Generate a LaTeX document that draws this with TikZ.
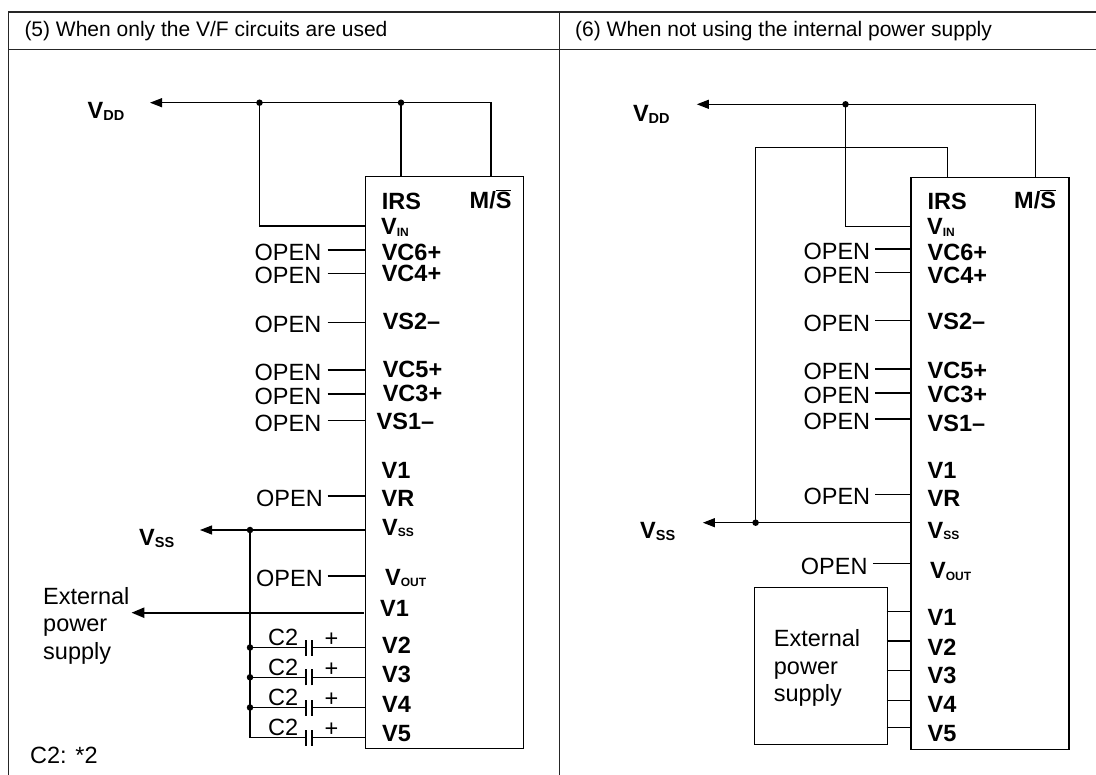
\documentclass[tikz,border=0pt]{standalone}
\usepackage{fontspec}
\setmainfont{Liberation Sans}
\usetikzlibrary{arrows.meta}
\newcommand{\insub}[1]{\raisebox{-1.5pt}{\fontsize{12}{12}\selectfont #1}}
\newcommand{\outsub}[1]{\raisebox{-2pt}{\fontsize{14.5}{15}\selectfont #1}}
\newcommand{\msbar}{M/$\overline{\hbox{S}}$}
\begin{document}
\begin{tikzpicture}[x=1pt,y=-1pt,
  wire/.style={line width=1.1pt},
  thickwire/.style={line width=2.4pt},
  framel/.style={line width=1.3pt, black!85},
  arr/.style={-{Triangle[length=12pt,width=9pt]}},
  jdot/.style={circle, fill, inner sep=0pt, minimum size=6.5pt},
  pinlbl/.style={anchor=base west, inner sep=0pt, font=\bfseries\fontsize{23.5}{26}\selectfont},
  openlbl/.style={anchor=base east, inner sep=0pt, font=\fontsize{23.5}{26}\selectfont},
  plainlbl/.style={anchor=base west, inner sep=0pt, font=\fontsize{23.5}{26}\selectfont},
  titlelbl/.style={anchor=base west, inner sep=0pt, font=\fontsize{21}{25}\selectfont},
  extlbl/.style={anchor=north west, inner sep=0pt, align=left, font=\fontsize{23.5}{27.5}\selectfont},
  chipbox/.style={draw, line width=1.1pt, inner sep=0pt, anchor=north west},
]
\useasboundingbox (0,0) rectangle (1096,775);

% ---------------- frame ----------------
\coordinate (FtL) at (8.3,12);
\coordinate (FtR) at (1096,12);
\coordinate (FhL) at (8.3,49.5);
\coordinate (FhR) at (1096,49.5);
\coordinate (FbL) at (8.3,775);
\coordinate (FtM) at (559.3,12);
\coordinate (FbM) at (559.3,775);
\draw[framel, line width=1.8pt] (FtL) -- (FtR);
\draw[framel] (FhL) -- (FhR);
\draw[framel] (FtL) -- (FbL);
\draw[framel] (FtM) -- (FbM);
\node[titlelbl] (T5) at (24.3,36.5) {(5) When only the V/F circuits are used};
\node[titlelbl] (T6) at (575,36.5) {(6) When not using the internal power supply};

% ================= LEFT PANEL =================
\node[chipbox, minimum width=157.9pt, minimum height=571.5pt] (Lchip) at (364.7,176) {};
% VDD
\coordinate (Lvddtip) at (150,102.7);
\coordinate (Lms) at (491,176);
\coordinate (Lirs) at (401,176);
\coordinate (Lvin) at (364.7,226);
\node[jdot] (Ld1) at (259.5,102.7) {};
\node[jdot] (Ld2) at (401,102.7) {};
\draw[wire, arr] (Lms) |- (Lvddtip);
\draw[wire] (Ld2.center) -- (Lirs);
\draw[wire] (Ld1.center) |- (Lvin);
\node[pinlbl] (LVDD) at (87.5,119) {V\outsub{DD}};

% OPEN rows
\foreach \n/\y/\tx in {1/250/321.5, 2/273.3/321.5, 3/322.3/321.5, 4/370/321.5, 5/394/321.5, 6/420.7/321.5, 7/496/323, 8/576/323} {
  \coordinate (LoA\n) at (327.5,\y);
  \coordinate (LoB\n) at (364.7,\y);
  \node[openlbl] (LoT\n) at (\tx,\y+10.5) {OPEN};
  \draw[wire] (LoA\n) -- (LoB\n);
}

% VSS
\coordinate (Lvss) at (364.7,530);
\coordinate (Lvsstip) at (200,530);
\node[jdot] (Ldv) at (250,530) {};
\draw[wire, arr] (Lvss) -- (Lvsstip);
\node[pinlbl] (LVSS) at (139,545.5) {V\outsub{SS}};

% external V1
\coordinate (Lv1) at (363.5,612.7);
\coordinate (Lexttip) at (131.4,612.7);
\draw[thickwire, -{Triangle[length=13pt,width=10pt]}] (Lv1) -- (Lexttip);
\node[extlbl] (Lext) at (43,586.8) {External\\power\\supply};

% capacitors
\foreach \n/\y in {1/647.5, 2/677.3, 3/707.5, 4/737.5} {
  \coordinate (CbA\n) at (250,\y);
  \coordinate (CpL\n) at (306,\y);
  \coordinate (CpR\n) at (312,\y);
  \coordinate (CcB\n) at (364.7,\y);
  \draw[wire] (CbA\n) -- (CpL\n);
  \draw[wire] (CpR\n) -- (CcB\n);
  \draw[wire] ([yshift=-8pt]CpL\n) -- ([yshift=8pt]CpL\n);
  \draw[wire] ([yshift=-8pt]CpR\n) -- ([yshift=8pt]CpR\n);
  \node[plainlbl] (Clab\n) at (268,\y-2) {C2};
  \node[plainlbl] (Cplus\n) at (324.3,\y-1) {+};
}
\foreach \n in {1,2,3} { \node[jdot] (Cdot\n) at (CbA\n) {}; }
\draw[wire] (Ldv.center) -- (CbA4);
\node[plainlbl] (Lnote) at (30,763.4) {C2: *2};

% chip labels left
\node[pinlbl] (LlIRS) at (381.6,210) {IRS};
\node[pinlbl] (LlMS) at (469.5,208.5) {\msbar};
\node[pinlbl] (LlVIN) at (381,235) {V\insub{IN}};
\node[pinlbl] (LlVC6) at (381.6,260.5) {VC6+};
\node[pinlbl] (LlVC4) at (381.6,282) {VC4+};
\node[pinlbl] (LlVS2) at (382.6,330) {VS2–};
\node[pinlbl] (LlVC5) at (382.6,377.5) {VC5+};
\node[pinlbl] (LlVC3) at (382.6,401.7) {VC3+};
\node[pinlbl] (LlVS1) at (376.5,430) {VS1–};
\node[pinlbl] (LlV1a) at (381.4,478.4) {V1};
\node[pinlbl] (LlVR) at (381.4,506.4) {VR};
\node[pinlbl] (LlVSS) at (382,535.5) {V\insub{SS}};
\node[pinlbl] (LlVOUT) at (385,585) {V\insub{OUT}};
\node[pinlbl] (LlV1b) at (380,616.7) {V1};
\node[pinlbl] (LlV2) at (382,653.4) {V2};
\node[pinlbl] (LlV3) at (382,682.4) {V3};
\node[pinlbl] (LlV4) at (382,712.7) {V4};
\node[pinlbl] (LlV5) at (382,741) {V5};

% ================= RIGHT PANEL =================
\node[chipbox, minimum width=158pt, minimum height=572.6pt] (Rchip) at (910.4,176.7) {};
\coordinate (Rvddtip) at (696.8,104.3);
\coordinate (Rms) at (1035.9,176.7);
\coordinate (Rirs) at (947.4,176.7);
\coordinate (Rvin) at (910.4,226.7);
\coordinate (Rloop) at (755.6,147.7);
\node[jdot] (Rd1) at (845.5,104.3) {};
\draw[wire, arr] (Rms) |- (Rvddtip);
\draw[wire] (Rd1.center) |- (Rvin);
\node[pinlbl] (RVDD) at (632.8,121.7) {V\outsub{DD}};

\coordinate (Rvss) at (910.4,522.7);
\coordinate (Rvsstip) at (702.9,522.7);
\node[jdot] (Rdv) at (755.6,522.7) {};
\draw[wire, arr] (Rvss) -- (Rvsstip);
\draw[wire] (Rirs) |- (Rloop) -- (Rdv.center);
\node[pinlbl] (RVSS) at (640,538.5) {V\outsub{SS}};

\foreach \n/\y/\tx/\sx in {1/249/870.4/875, 2/272.7/870.4/875, 3/320.7/870.4/875, 4/369/870.4/875, 5/393/870.4/875, 6/419/870.4/875, 7/494.3/870.4/875, 8/563.3/867.7/872.8} {
  \coordinate (RoA\n) at (\sx,\y);
  \coordinate (RoB\n) at (910.4,\y);
  \node[openlbl] (RoT\n) at (\tx,\y+10.7) {OPEN};
  \draw[wire] (RoA\n) -- (RoB\n);
}

\node[chipbox, minimum width=133pt, minimum height=157pt] (Rext) at (753.5,587.3) {};
\node[extlbl] (Rexttxt) at (773.7,629.5) {External\\power\\supply};
\foreach \n/\y in {1/611.7, 2/641, 3/670.7, 4/700.7, 5/727.7} {
  \coordinate (ReA\n) at (886.5,\y);
  \coordinate (ReB\n) at (910.4,\y);
  \draw[wire] (ReA\n) -- (ReB\n);
}

\node[pinlbl] (RlIRS) at (927.5,210) {IRS};
\node[pinlbl] (RlMS) at (1014,208.5) {\msbar};
\node[pinlbl] (RlVIN) at (927,235) {V\insub{IN}};
\node[pinlbl] (RlVC6) at (927.5,260.7) {VC6+};
\node[pinlbl] (RlVC4) at (927.5,283.4) {VC4+};
\node[pinlbl] (RlVS2) at (927.5,330) {VS2–};
\node[pinlbl] (RlVC5) at (927.5,378.4) {VC5+};
\node[pinlbl] (RlVC3) at (927.5,402.4) {VC3+};
\node[pinlbl] (RlVS1) at (927.5,431.7) {VS1–};
\node[pinlbl] (RlV1a) at (927.5,478.4) {V1};
\node[pinlbl] (RlVR) at (927.5,507) {VR};
\node[pinlbl] (RlVSS) at (927.5,538.4) {V\insub{SS}};
\node[pinlbl] (RlVOUT) at (930,579) {V\insub{OUT}};
\node[pinlbl] (RlV1b) at (927.5,625) {V1};
\node[pinlbl] (RlV2) at (927.5,655) {V2};
\node[pinlbl] (RlV3) at (927.5,683.4) {V3};
\node[pinlbl] (RlV4) at (927.5,712.4) {V4};
\node[pinlbl] (RlV5) at (927.5,741.4) {V5};
\end{tikzpicture}
\end{document}
